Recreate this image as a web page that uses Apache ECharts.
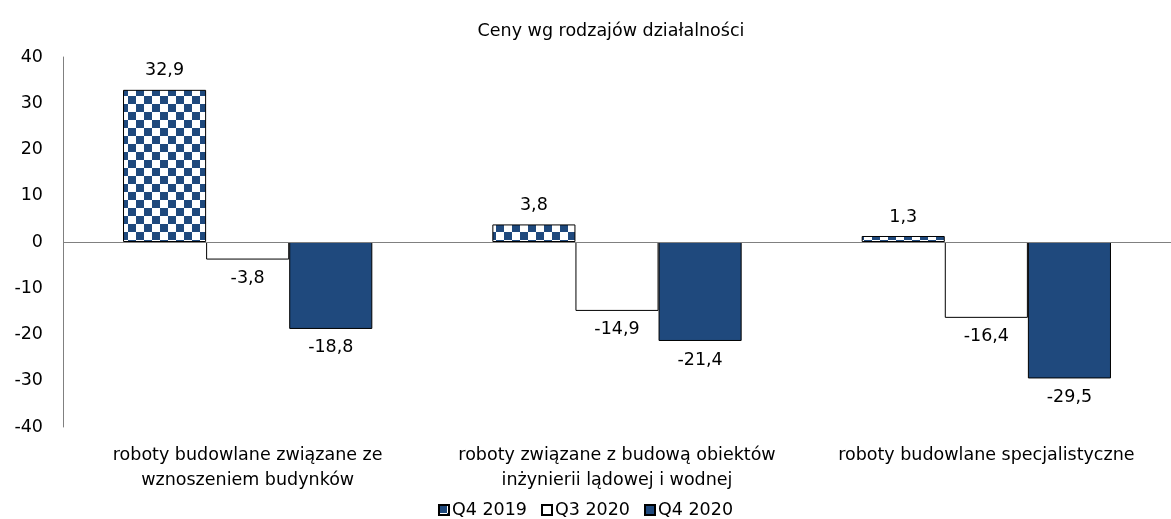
<!DOCTYPE html>
<html><head><meta charset="utf-8">
<script src="https://cdn.jsdelivr.net/npm/echarts@6/dist/echarts.min.js"></script>
<style>html,body{margin:0;padding:0;background:#fff}#c{width:1171px;height:519px}</style>
</head><body><div id="c"></div>
<script>
const categories = ['roboty budowlane związane ze\nwznoszeniem budynków', 'roboty związane z budową obiektów\ninżynierii lądowej i wodnej', 'roboty budowlane specjalistyczne'];
const seriesNames = ['Q4 2019', 'Q3 2020', 'Q4 2020'];
const q4_2019 = [32.9, 3.8, 1.3];
const q3_2020 = [-3.8, -14.9, -16.4];
const q4_2020 = [-18.8, -21.4, -29.5];
const yTicks = [-40, -30, -20, -10, 0, 10, 20, 30, 40];

const BLUE = '#1f497d';
const FONT = 'DejaVu Sans';
const FS = 17.5;
const cv = document.createElement('canvas');
cv.width = 16; cv.height = 16;
const ctx = cv.getContext('2d');
ctx.fillStyle = '#fff'; ctx.fillRect(0,0,16,16);
ctx.fillStyle = BLUE; ctx.fillRect(0,0,8,8); ctx.fillRect(8,8,8,8);
const pattern = {image: cv, repeat: 'repeat'};

const chart = echarts.init(document.getElementById('c'));
const lbl = {show: true, position: 'outside', fontFamily: FONT, fontSize: FS, color: '#000',
  formatter: p => String(p.value).replace('.', ','), distance: 10};
function mk(name, data, style) {
  return {name, type: 'bar', data: data.map(v => ({value: v, label: {position: v >= 0 ? 'top' : 'bottom'}})),
    barGap: '0%', barCategoryGap: '32.5%', itemStyle: style, label: lbl, animation: false};
}
const s1 = mk(seriesNames[0], q4_2019, {color: pattern, borderColor: '#000', borderWidth: 1});
s1.markLine = {silent: true, symbol: 'none', label: {show: false}, lineStyle: {color: '#808080', type: 'solid', width: 1}, data: [{yAxis: 0}]};
chart.setOption({
  animation: false,
  title: {text: 'Ceny wg rodzajów działalności', left: 606, textAlign: 'center', top: 17,
    textStyle: {fontFamily: FONT, fontSize: FS, fontWeight: 'normal', color: '#000'}},
  grid: {left: 63, right: 0, top: 57, bottom: 92, containLabel: false},
  legend: {top: 496, left: 'center', itemWidth: 10, itemHeight: 10, itemGap: 14,
    textStyle: {fontFamily: FONT, fontSize: FS, color: '#000', padding: [0,0,0,-2]},
    data: [{name: seriesNames[0], icon: 'rect'}, {name: seriesNames[1], icon: 'rect'}, {name: seriesNames[2], icon: 'rect'}]},
  xAxis: {type: 'category', data: categories, axisLine: {show: false, onZero: false}, axisTick: {show: false},
    axisLabel: {fontFamily: FONT, fontSize: FS, color: '#000', lineHeight: 25, margin: 16, interval: 0}},
  yAxis: {type: 'value', min: -40, max: 40, interval: 10, splitLine: {show: false},
    axisLine: {show: true, lineStyle: {color: '#808080'}}, axisTick: {show: false},
    axisLabel: {fontFamily: FONT, fontSize: FS, color: '#000', margin: 20,
      formatter: v => yTicks.includes(v) ? String(v) : ''}},
  series: [
    s1,
    mk(seriesNames[1], q3_2020, {color: '#fff', borderColor: '#000', borderWidth: 1}),
    mk(seriesNames[2], q4_2020, {color: BLUE, borderColor: '#000', borderWidth: 1})
  ]
});
</script></body></html>
